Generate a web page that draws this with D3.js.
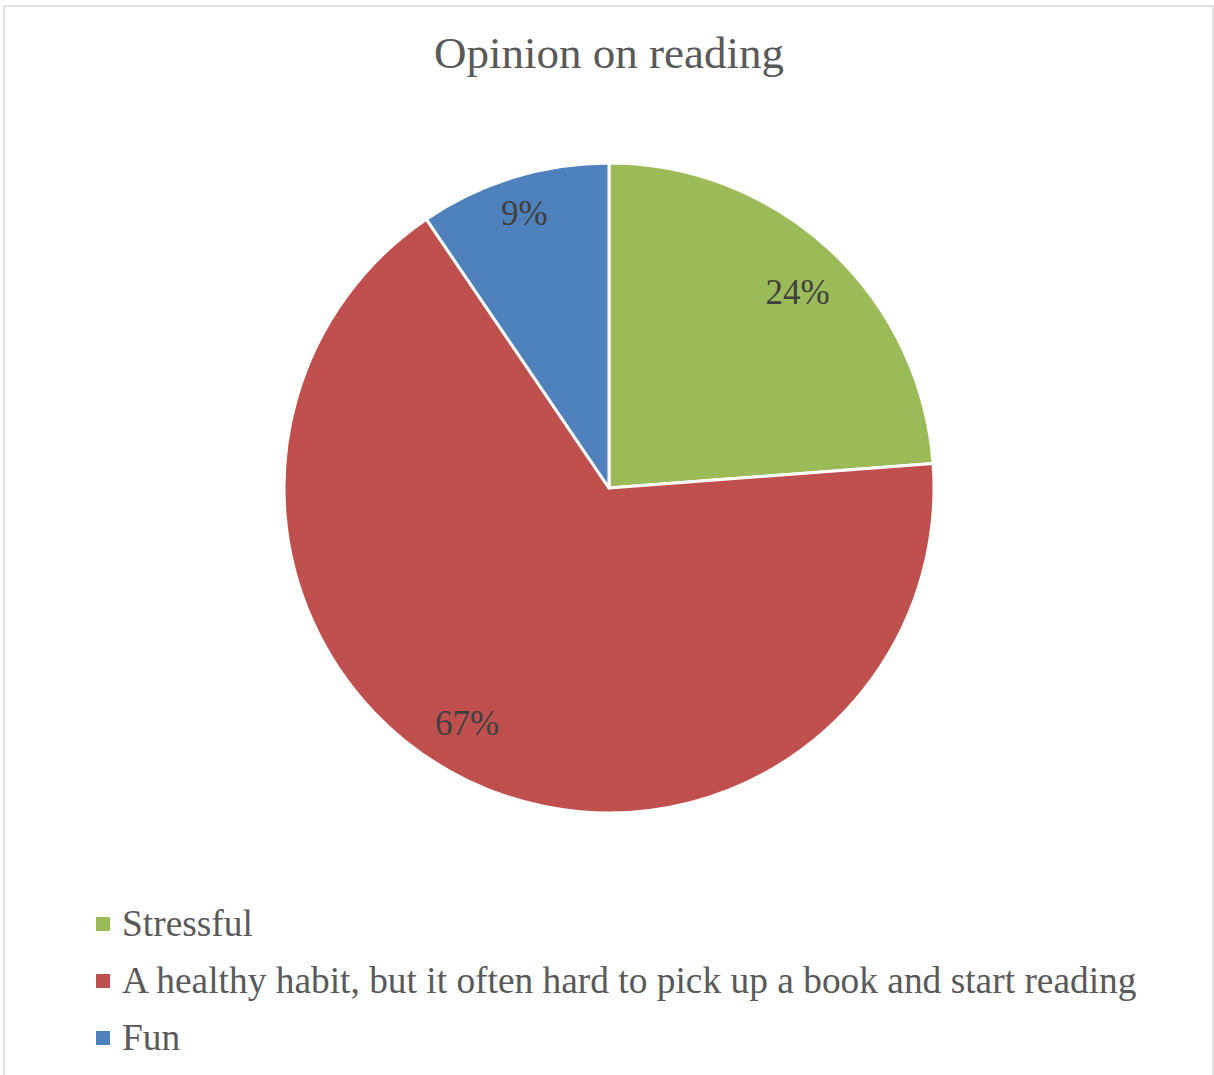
<!DOCTYPE html>
<html>
<head>
<meta charset="utf-8">
<script src="https://cdn.jsdelivr.net/npm/d3@7"></script>
<style>
  html, body { margin: 0; padding: 0; background: #fff; }
  svg { display: block; }
</style>
</head>
<body>
<svg id="chart" width="1214" height="1075"></svg>
<script>
const categories = ["Stressful", "A healthy habit, but it often hard to pick up a book and start reading", "Fun"];
const values = [23.8, 66.7, 9.5];
const labels = ["24%", "67%", "9%"];
const colors = ["#9BBB59", "#C0504D", "#4F81BD"];
const title = "Opinion on reading";

const svg = d3.select("#chart");
const W = 1214, H = 1075;
const font = "'Liberation Serif', 'Times New Roman', serif";

svg.append("rect").attr("x", 4).attr("y", 6).attr("width", 1209).attr("height", H + 10)
  .attr("fill", "#fff").attr("stroke", "#d9d9d9").attr("stroke-width", 1.5);

svg.append("text").attr("x", 609).attr("y", 68).attr("text-anchor", "middle")
  .attr("font-family", font).attr("font-size", 45).attr("fill", "#595959").text(title);

const cx = 609, cy = 488, r = 325;
const pie = d3.pie().sort(null).value(d => d);
const arcs = pie(values);
const arc = d3.arc().innerRadius(0).outerRadius(r);

// label placement (layout only): radius fraction and angular nudge per slice
const labelRadiusFrac = [0.835, 0.845, 0.885];
const labelAngleNudge = [0.02, 0.094, 0.0];

const g = svg.append("g").attr("transform", `translate(${cx},${cy})`);
g.selectAll("path.slice").data(arcs).join("path")
  .attr("class", "slice")
  .attr("d", arc)
  .attr("fill", (d, i) => colors[i])
  .attr("stroke", "#fff").attr("stroke-width", 3).attr("stroke-linejoin", "round");

g.selectAll("text.lbl").data(arcs).join("text")
  .attr("class", "lbl")
  .attr("transform", (d, i) => {
    const a = (d.startAngle + d.endAngle) / 2 + labelAngleNudge[i];
    const rr = r * labelRadiusFrac[i];
    return `translate(${rr * Math.sin(a)},${-rr * Math.cos(a)})`;
  })
  .attr("text-anchor", "middle").attr("dy", "0.33em")
  .attr("font-family", font).attr("font-size", 35).attr("fill", "#404040")
  .text((d, i) => labels[i]);

const legend = svg.append("g");
const rowY = d3.scalePoint().domain(categories).range([924, 1038]);
const items = legend.selectAll("g").data(categories).join("g")
  .attr("transform", d => `translate(0,${rowY(d)})`);
items.append("rect").attr("x", 96).attr("y", -7).attr("width", 14).attr("height", 14)
  .attr("fill", (d, i) => colors[i]);
items.append("text").attr("x", 122).attr("y", 12)
  .attr("font-family", font).attr("font-size", 37.4).attr("fill", "#595959")
  .text(d => d);
</script>
</body>
</html>
